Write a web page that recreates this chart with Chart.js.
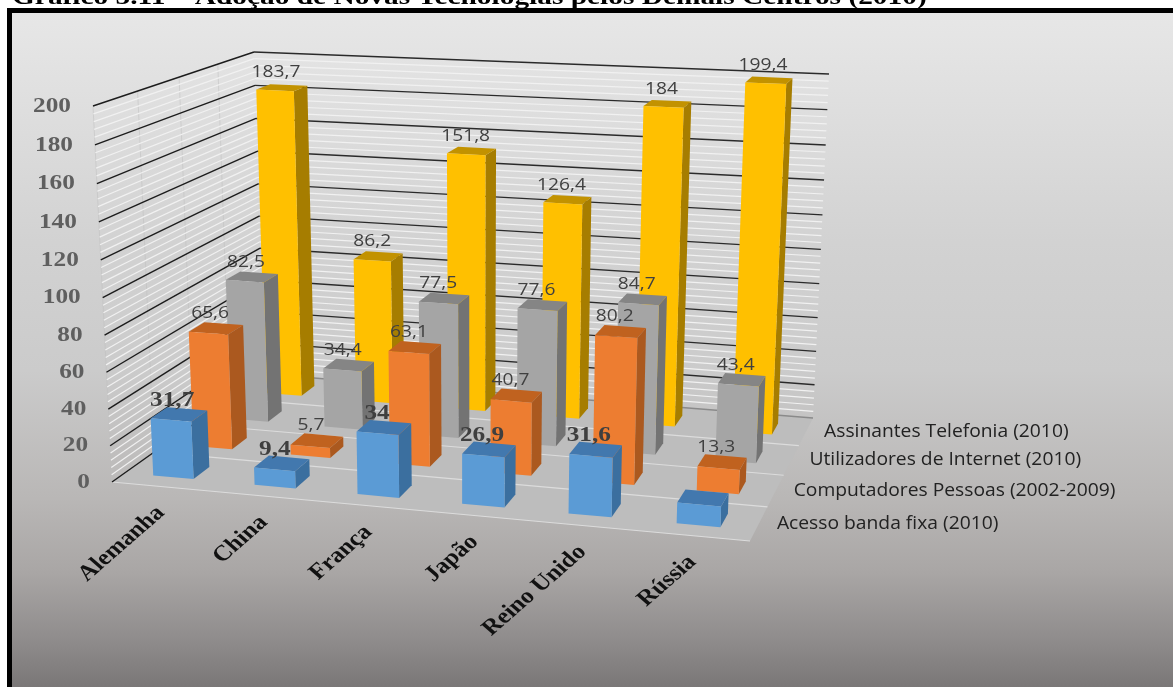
<!DOCTYPE html>
<html>
<head>
<meta charset="utf-8">
<title>Adoção de Novas Tecnologias</title>
<script src="https://cdn.jsdelivr.net/npm/chart.js@4/dist/chart.umd.js"></script>
<style>
    html, body { margin: 0; padding: 0; background: #fff; overflow: hidden; }
    canvas { display: block; }
</style>
</head>
<body>
<canvas id="chart" width="1173" height="687"></canvas>
<script>
// Chart values
const titleText = "Gráfico 5.11 – Adoção de Novas Tecnologias pelos Demais Centros (2010)";
const categories = ["Alemanha", "China", "França", "Japão", "Reino Unido", "Rússia"];
const seriesNames = ["Acesso banda fixa (2010)", "Computadores Pessoas (2002-2009)", "Utilizadores de Internet (2010)", "Assinantes Telefonia (2010)"];
const bandaFixa = [31.7, 9.4, 34, 26.9, 31.6, 11];
const computadores = [65.6, 5.7, 63.1, 40.7, 80.2, 13.3];
const internetUsers = [82.5, 34.4, 77.5, 77.6, 84.7, 43.4];
const telefonia = [183.7, 86.2, 151.8, 126.4, 184, 199.4];
// Russia's broadband bar carries no label in the chart
const unlabeled = [{ series: 0, index: 5 }];

const frontColors = ["#5b9bd5", "#ed7d31", "#a5a5a5", "#ffc000"];
const sideColors = ["#3b6f9f", "#ab591f", "#737373", "#a67d00"];
const topColors = ["#4278ae", "#c0621f", "#858585", "#c29200"];

// Corners of the 3D box on screen: [x, y]
const box = {
    frontLeft: { bottom: [112, 482], top: [93, 106] },
    frontRight: { bottom: [750, 541], top: [765, 140] },
    backLeft: { bottom: [264, 374], top: [254, 52] },
    backRight: { bottom: [813, 418], top: [829, 74] }
};
// Perspective foreshortening along each axis
const warpU = 1.05, warpV = 1.04, warpW = 0.87;
const barDepth = 0.4;
const barShift = -0.003;

const serifBold = 'bold 22px "Liberation Serif"';
const sansLabel = '17px "Open Sans"';
const seriesFont = '18px "Open Sans"';
const textStretch = 1.15;

function warp(t, r) {
    return t / (t + (1 - t) * r);
}

function lerp(a, b, t) {
    return [a[0] + (b[0] - a[0]) * t, a[1] + (b[1] - a[1]) * t];
}

// u: along categories, v: along values, w: along series (0 front, 1 back)
function project(u, v, w) {
    const uu = warp(u, warpU), vv = warp(v, warpV), ww = warp(w, warpW);
    const bottom = lerp(lerp(box.frontLeft.bottom, box.frontRight.bottom, uu), lerp(box.backLeft.bottom, box.backRight.bottom, uu), ww);
    const top = lerp(lerp(box.frontLeft.top, box.frontRight.top, uu), lerp(box.backLeft.top, box.backRight.top, uu), ww);
    return lerp(bottom, top, vv);
}

function face(ctx, points, color) {
    ctx.beginPath();
    points.forEach((p, i) => i ? ctx.lineTo(p[0], p[1]) : ctx.moveTo(p[0], p[1]));
    ctx.closePath();
    ctx.fillStyle = color;
    ctx.fill();
}

function line(ctx, a, b, color, width) {
    ctx.beginPath();
    ctx.moveTo(a[0], a[1]);
    ctx.lineTo(b[0], b[1]);
    ctx.strokeStyle = color;
    ctx.lineWidth = width;
    ctx.stroke();
}

// Text widened horizontally, optionally rotated
function drawText(ctx, text, x, y, font, color, align, stretch, angle) {
    ctx.save();
    ctx.translate(x, y);
    ctx.scale(stretch, 1);
    if (angle) ctx.rotate(angle);
    ctx.font = font;
    ctx.fillStyle = color;
    ctx.textAlign = align;
    ctx.textBaseline = "middle";
    ctx.fillText(text, 0, 0);
    ctx.restore();
}

function valueFraction(scale, value) {
    return (scale.bottom - scale.getPixelForValue(value)) / (scale.bottom - scale.top);
}

function depthFraction(scale, index) {
    return (scale.getPixelForTick(index) - scale.left) / scale.width;
}

function unitX(scale, pixel) {
    return (pixel - scale.left) / scale.width;
}

const scenePlugin = {
    id: "scene",
    beforeDraw(chart) {
        const ctx = chart.ctx;
        ctx.save();
        ctx.fillStyle = "#fff";
        ctx.fillRect(0, 0, chart.width, chart.height);
        ctx.fillStyle = "#000";
        ctx.fillRect(7, 8, chart.width, chart.height);
        const bg = ctx.createLinearGradient(0, 13, 0, 687);
        bg.addColorStop(0, "#e7e7e7");
        bg.addColorStop(0.34, "#d2d2d2");
        bg.addColorStop(0.53, "#cbcbcb");
        bg.addColorStop(0.72, "#b9b7b6");
        bg.addColorStop(0.83, "#a9a6a5");
        bg.addColorStop(0.93, "#8f8c8c");
        bg.addColorStop(1, "#7a7777");
        ctx.fillStyle = bg;
        ctx.fillRect(12, 13, chart.width, chart.height);
        ctx.font = 'bold 24px "Liberation Serif"';
        ctx.fillStyle = "#000";
        ctx.textBaseline = "alphabetic";
        ctx.save();
        ctx.translate(12, 4);
        ctx.scale(1.224, 1);
        ctx.fillText(titleText, 0, 0);
        ctx.restore();
        ctx.restore();
    },
    beforeDatasetsDraw(chart) {
        const ctx = chart.ctx, y = chart.scales.y;
        ctx.save();
        // floor
        face(ctx, [project(0, 0, 0), project(1, 0, 0), project(1, 0, 1), project(0, 0, 1)], "#bdbdbd");
        seriesNames.forEach((name, j) => {
            const w = j / seriesNames.length;
            line(ctx, project(0, 0, w), project(1, 0, w), "#dcdcdc", 1.2);
        });
        // faint row dividers on the left wall
        seriesNames.forEach((name, j) => {
            const w = j / seriesNames.length;
            line(ctx, project(0, 0, w), project(0, 1, w), "rgba(190,190,190,0.5)", 1);
        });
        // minor then major gridlines on both walls
        const step = y.options.ticks.stepSize;
        y.ticks.forEach(tick => {
            for (let m = 1; m < 5 && tick.value < y.max; m++) {
                const v = valueFraction(y, tick.value + m * step / 5);
                line(ctx, project(0, v, 0), project(0, v, 1), "#f1f1f1", 1.2);
                line(ctx, project(0, v, 1), project(1, v, 1), "#f1f1f1", 1.2);
            }
        });
        y.ticks.forEach(tick => {
            const v = valueFraction(y, tick.value);
            line(ctx, project(0, v, 0), project(0, v, 1), "#1c1c1c", 1.4);
            line(ctx, project(0, v, 1), project(1, v, 1), tick.value === 0 ? "#8a8a8a" : "#2a2a2a", 1.4);
        });
        ctx.restore();
    },
    beforeDatasetDraw(chart, args) {
        const ctx = chart.ctx, x = chart.scales.x, y = chart.scales.y, z = chart.scales.z;
        const j = args.index;
        const wc = depthFraction(z, j);
        const halfDepth = barDepth / seriesNames.length / 2;
        const w0 = wc - halfDepth, w1 = wc + halfDepth;
        args.meta.data.forEach(bar => {
            const props = bar.getProps(["x", "y", "base", "width"], true);
            const u0 = unitX(x, props.x - props.width / 2) + barShift, u1 = unitX(x, props.x + props.width / 2) + barShift;
            const vTop = (y.bottom - props.y) / (y.bottom - y.top);
            const vBase = (y.bottom - props.base) / (y.bottom - y.top);
            face(ctx, [project(u1, vBase, w0), project(u1, vBase, w1), project(u1, vTop, w1), project(u1, vTop, w0)], sideColors[j]);
            face(ctx, [project(u0, vTop, w0), project(u1, vTop, w0), project(u1, vTop, w1), project(u0, vTop, w1)], topColors[j]);
            face(ctx, [project(u0, vBase, w0), project(u1, vBase, w0), project(u1, vTop, w0), project(u0, vTop, w0)], frontColors[j]);
        });
        return false;
    },
    afterDatasetsDraw(chart) {
        const ctx = chart.ctx, x = chart.scales.x, y = chart.scales.y, z = chart.scales.z;
        // value axis labels follow the front left edge
        y.ticks.forEach(tick => {
            const p = project(0, valueFraction(y, tick.value), 0);
            drawText(ctx, String(tick.value), p[0] - 22, p[1], serifBold, "#5f5f5f", "right", textStretch);
        });
        // category labels under the front edge
        categories.forEach((name, i) => {
            const p = project(unitX(x, x.getPixelForTick(i)), 0, 0);
            drawText(ctx, name, p[0] - 2, p[1] + 23, serifBold, "#111", "right", textStretch, -Math.PI / 4);
        });
        // series labels beyond the right edge of the floor
        seriesNames.forEach((name, j) => {
            const p = project(1, 0, depthFraction(z, j));
            drawText(ctx, name, p[0] + 18, p[1], seriesFont, "#222", "left", 1.07);
        });
        // value labels: back series first
        for (let j = seriesNames.length - 1; j >= 0; j--) {
            const meta = chart.getDatasetMeta(j);
            const values = chart.data.datasets[j].data;
            meta.data.forEach((bar, i) => {
                if (unlabeled.some(o => o.series === j && o.index === i)) return;
                const p = project(unitX(x, bar.x) + barShift, (y.bottom - bar.y) / (y.bottom - y.top), depthFraction(z, j));
                const text = String(values[i]).replace(".", ",");
                if (j === 0) {
                    drawText(ctx, text, p[0] - 7, p[1] - 14, serifBold, "#3f3f3f", "center", textStretch);
                } else {
                    drawText(ctx, text, p[0] - 6, p[1] - 15, sansLabel, "#404040", "center", 1.13);
                }
            });
        }
    }
};

const seriesValues = [bandaFixa, computadores, internetUsers, telefonia];

new Chart(document.getElementById("chart").getContext("2d"), {
    type: "bar",
    data: {
        labels: categories,
        datasets: seriesNames.map((name, j) => ({
            label: name,
            data: seriesValues[j],
            backgroundColor: frontColors[j]
        }))
    },
    options: {
        responsive: false,
        animation: false,
        events: [],
        grouped: false,
        categoryPercentage: 1,
        barPercentage: 0.4,
        layout: { padding: 0 },
        plugins: {
            legend: { display: false },
            tooltip: { enabled: false },
            title: { display: false }
        },
        scales: {
            x: { display: false },
            y: { display: false, min: 0, max: 200, ticks: { stepSize: 20 } },
            z: { type: "category", axis: "x", position: "bottom", display: false, labels: seriesNames, offset: true }
        }
    },
    plugins: [scenePlugin]
});
</script>
</body>
</html>
